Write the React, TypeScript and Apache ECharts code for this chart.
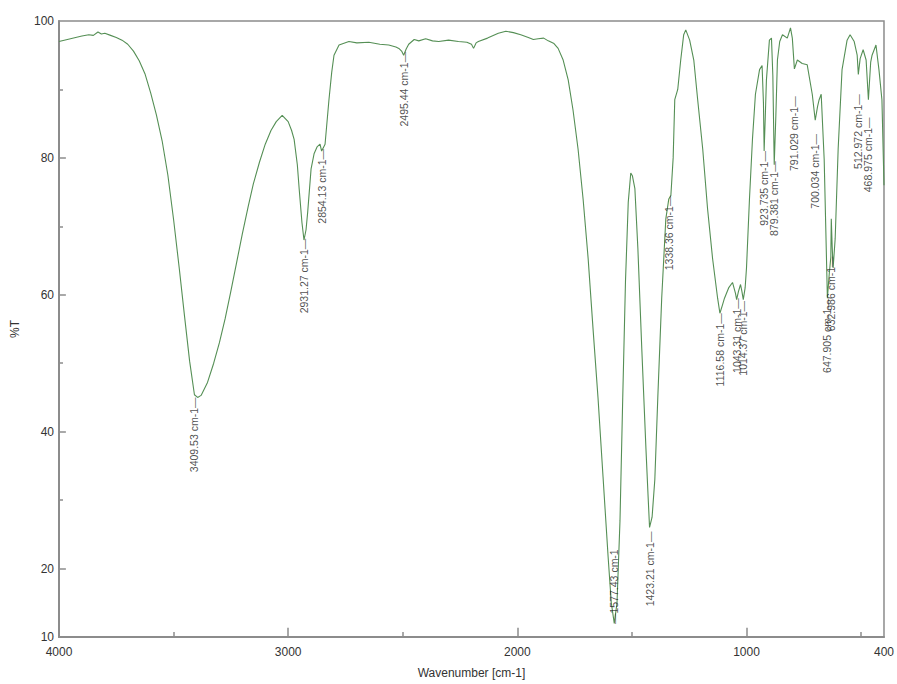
import React, { useEffect, useRef } from 'react';
import * as echarts from 'echarts';

const wavenumbers = [
  4000, 3950, 3900, 3870, 3850, 3830, 3815, 3800, 3775, 3750, 3725, 3700, 3675, 3650, 3625, 3600,
  3575, 3550, 3525, 3500, 3475, 3452, 3430, 3409, 3395, 3380, 3352, 3325, 3300, 3275, 3252, 3225,
  3200, 3175, 3152, 3125, 3100, 3075, 3052, 3026, 3000, 2985, 2974, 2960, 2952, 2940, 2931, 2922,
  2915, 2900, 2887, 2874, 2861, 2854, 2845, 2839, 2822, 2810, 2800, 2778, 2735, 2700, 2648, 2600,
  2561, 2530, 2517, 2505, 2496, 2485, 2474, 2450, 2430, 2400, 2370, 2343, 2300, 2257, 2220, 2200,
  2191, 2180, 2170, 2130, 2083, 2050, 2017, 1985, 1952, 1930, 1909, 1885, 1865, 1840, 1822, 1800,
  1778, 1757, 1735, 1713, 1691, 1670, 1648, 1626, 1604, 1590, 1577, 1565, 1552, 1540, 1528, 1516,
  1505, 1498, 1487, 1474, 1457, 1439, 1430, 1423, 1412, 1400, 1387, 1370, 1352, 1339, 1330, 1320,
  1313, 1300, 1287, 1274, 1265, 1248, 1230, 1213, 1191, 1170, 1148, 1126, 1116, 1105, 1096, 1078,
  1061, 1048, 1043, 1035, 1026, 1020, 1014, 1006, 1000, 987, 974, 961, 943, 932, 926, 923,
  918, 913, 900, 891, 885, 879, 872, 865, 855, 843, 822, 808, 800, 791, 778, 757,
  735, 713, 700, 690, 683, 674, 661, 652, 647, 639, 632, 630, 626, 622, 613, 600,
  583, 561, 548, 530, 517, 512, 504, 491, 478, 468, 458, 452, 435, 422, 409, 400,
];

const transmittance = [
  97.0, 97.4, 97.8, 98.0, 97.9, 98.4, 98.1, 98.2, 97.9, 97.6, 97.2, 96.6, 95.6, 94.2, 92.3, 89.5,
  86.3, 82.5, 77.5, 71.0, 63.8, 56.8, 50.3, 45.4, 45.0, 45.3, 47.2, 50.0, 53.0, 56.5, 60.2, 64.7,
  68.9, 72.8, 76.2, 79.4, 82.0, 84.0, 85.3, 86.2, 85.3, 84.0, 82.7, 79.0, 75.5, 70.6, 68.0, 69.5,
  72.0, 78.4, 80.6, 81.6, 82.0, 81.0, 81.6, 82.0, 88.5, 92.5, 95.0, 96.5, 97.0, 96.8, 96.9, 96.6,
  96.5, 96.2, 96.0, 95.6, 95.0, 95.9, 96.6, 97.3, 97.1, 97.4, 97.1, 97.0, 97.2, 97.0, 96.9, 96.6,
  96.0, 96.8, 97.0, 97.5, 98.2, 98.5, 98.3, 98.0, 97.6, 97.3, 97.4, 97.5, 97.1, 96.7, 96.0, 94.3,
  91.4, 87.0, 81.3, 74.0, 65.3, 55.2, 45.0, 33.4, 21.8, 15.0, 12.0, 15.0, 27.0, 45.0, 62.0, 73.5,
  77.8, 77.4, 75.5, 66.8, 52.2, 37.7, 31.0, 26.0, 27.5, 33.0, 45.0, 59.5, 71.1, 74.0, 74.5, 80.0,
  88.5, 90.0, 94.3, 98.0, 98.7, 97.2, 94.3, 88.5, 81.3, 72.6, 65.3, 59.5, 57.3, 58.5, 59.5, 61.0,
  61.8, 60.2, 59.3, 60.5, 61.5, 60.5, 59.3, 61.0, 63.9, 74.0, 82.7, 89.3, 92.9, 93.5, 88.0, 81.0,
  86.0, 91.4, 97.2, 97.5, 92.0, 79.0, 86.0, 94.3, 97.0, 98.0, 97.5, 99.0, 97.5, 93.0, 94.3, 93.8,
  93.6, 89.3, 85.5, 87.5, 88.5, 89.3, 79.8, 66.8, 59.5, 63.0, 65.5, 71.1, 67.0, 63.9, 68.2, 81.3,
  92.9, 97.2, 98.0, 97.0, 95.0, 92.2, 94.5, 95.8, 94.3, 88.5, 94.0, 95.0, 96.5, 92.9, 88.5, 76.0,
];

const peakWavenumbers = [
  3409.53, 2931.27, 2854.13, 2495.44, 1577.43, 1423.21, 1338.36, 1116.58, 1043.31, 1014.37,
  923.735, 879.381, 791.029, 700.034, 647.905, 632.986, 512.972, 468.975,
];
const peakValues = [
  45.0, 68.2, 81.3, 95.5, 11.9, 25.4, 74.5, 57.3, 59.5, 59.1,
  81.0, 79.5, 89.0, 83.5, 59.5, 65.6, 89.3, 85.9,
];
const peakLabels = [
  '3409.53 cm-1', '2931.27 cm-1', '2854.13 cm-1', '2495.44 cm-1', '1577.43 cm-1', '1423.21 cm-1',
  '1338.36 cm-1', '1116.58 cm-1', '1043.31 cm-1', '1014.37 cm-1', '923.735 cm-1', '879.381 cm-1',
  '791.029 cm-1', '700.034 cm-1', '647.905 cm-1', '632.986 cm-1', '512.972 cm-1', '468.975 cm-1',
];
const upwardPeaks = ['1577.43 cm-1'];

const xTickLabels = [4000, 3000, 2000, 1000, 400];
const xMajorTicks = [3000, 2000, 1000];
const xMinorTicks = [3500, 2500, 1500, 500];
const yTickLabels = [100, 80, 60, 40, 20, 10];
const yMajorTicks = [20, 40, 60, 80];
const yMinorTicks = [30, 50, 70, 90];

const FONT = 'Liberation Sans, Arial, sans-serif';
const AXIS_COLOR = '#8c8c8c';

export default function App() {
  const ref = useRef<HTMLDivElement>(null);

  useEffect(() => {
    const chart = echarts.init(ref.current as HTMLDivElement, null, { renderer: 'svg' });

    const spectrum = wavenumbers.map((w, i) => [w, transmittance[i]]);
    const peaks = peakWavenumbers.map((w, i) => {
      const up = upwardPeaks.includes(peakLabels[i]);
      return {
        value: [w, peakValues[i]],
        name: peakLabels[i],
        label: up
          ? { align: 'left', formatter: '{d|—}{t|' + peakLabels[i] + '}' }
          : { align: 'right', formatter: '{t|' + peakLabels[i] + '}{d|—}' },
      };
    });

    // Major tick marks drawn as short segments in data space (inside the frame).
    const majorTickSegments = [
      ...xMajorTicks.map((v) => [{ coord: [v, 10] }, { coord: [v, 11.35] }]),
      ...yMajorTicks.map((v) => [{ coord: [4000, v] }, { coord: [3970, v] }]),
    ];

    chart.setOption({
      animation: false,
      backgroundColor: '#ffffff',
      grid: {
        left: 59,
        right: 10,
        top: 21,
        bottom: 43,
        show: true,
        borderColor: AXIS_COLOR,
        borderWidth: 1.5,
        backgroundColor: 'transparent',
      },
      xAxis: {
        type: 'value',
        inverse: true,
        min: 400,
        max: 4000,
        name: 'Wavenumber [cm-1]',
        nameLocation: 'middle',
        nameGap: 30,
        nameTextStyle: { color: '#333', fontSize: 12, fontFamily: FONT },
        axisLine: { show: true, lineStyle: { color: AXIS_COLOR, width: 2 } },
        axisTick: {
          show: true,
          inside: true,
          length: 5,
          customValues: xMinorTicks,
          lineStyle: { color: AXIS_COLOR, width: 1.5 },
        },
        axisLabel: {
          customValues: xTickLabels,
          formatter: (v: number) => String(v),
          color: '#333',
          fontSize: 12,
          fontFamily: FONT,
          margin: 9,
          showMinLabel: true,
          showMaxLabel: true,
        },
        splitLine: { show: false },
      },
      yAxis: {
        type: 'value',
        min: 10,
        max: 100,
        interval: 10,
        name: '%T',
        nameLocation: 'middle',
        nameGap: 38,
        nameRotate: 90,
        nameTextStyle: { color: '#333', fontSize: 12, fontFamily: FONT },
        axisLine: { show: true, lineStyle: { color: AXIS_COLOR, width: 2 } },
        axisTick: {
          show: true,
          inside: true,
          length: 4,
          customValues: yMinorTicks,
          lineStyle: { color: AXIS_COLOR, width: 1.5 },
        },
        axisLabel: {
          customValues: yTickLabels,
          formatter: (v: number) => String(v),
          color: '#333',
          fontSize: 12,
          fontFamily: FONT,
          margin: 5,
          showMinLabel: true,
          showMaxLabel: true,
        },
        splitLine: { show: false },
      },
      series: [
        {
          type: 'line',
          data: spectrum,
          showSymbol: false,
          symbol: 'none',
          smooth: false,
          lineStyle: { color: '#558f55', width: 1.1 },
          silent: true,
          z: 2,
          markLine: {
            silent: true,
            symbol: ['none', 'none'],
            label: { show: false },
            lineStyle: { color: AXIS_COLOR, width: 1.5, type: 'solid' },
            emphasis: { disabled: true },
            data: majorTickSegments,
          },
        },
        {
          type: 'scatter',
          data: peaks,
          symbolSize: 0,
          silent: true,
          z: 3,
          label: {
            show: true,
            position: 'inside',
            rotate: 90,
            verticalAlign: 'middle',
            color: '#222',
            fontSize: 10.5,
            fontFamily: FONT,
            rich: {
              t: { color: '#222', fontSize: 10.5, fontFamily: FONT },
              d: { color: '#333', fontSize: 10.5, fontFamily: FONT },
            },
          },
          labelLayout: { hideOverlap: false },
        },
      ],
    });

    return () => chart.dispose();
  }, []);

  return (
    <div
      ref={ref}
      style={{ position: 'fixed', left: 0, top: 0, width: 897, height: 684, background: '#fff' }}
    />
  );
}
